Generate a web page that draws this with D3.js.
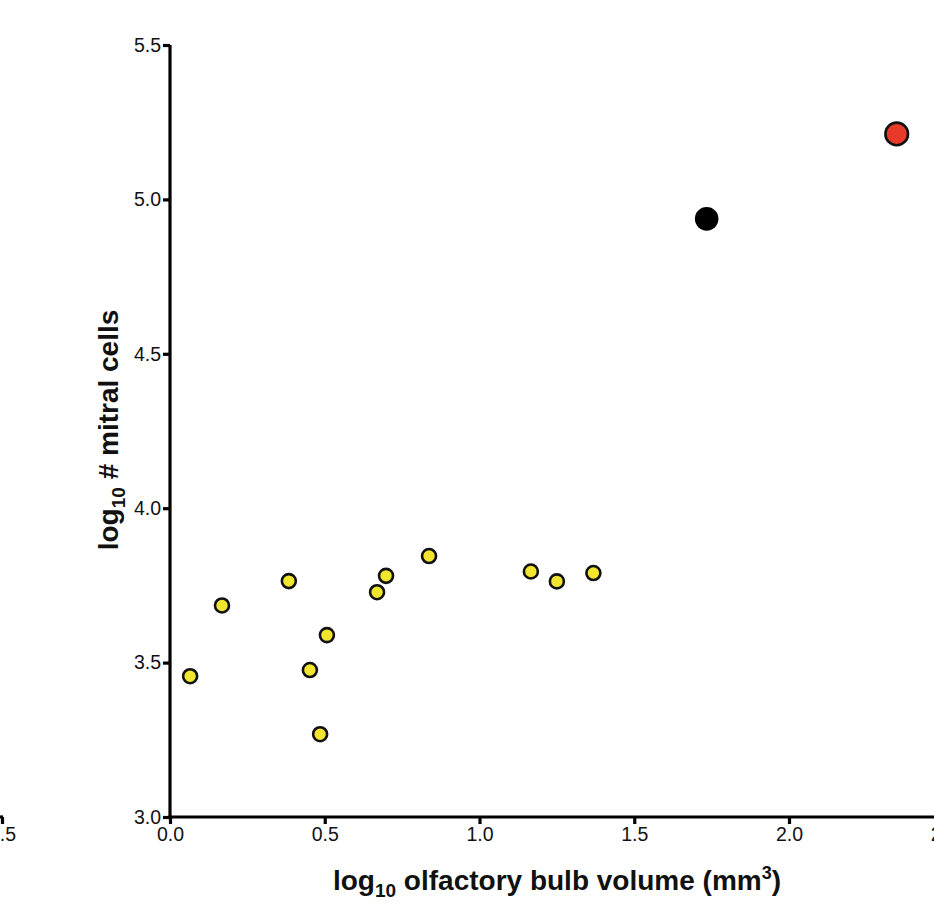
<!DOCTYPE html>
<html>
<head>
<meta charset="utf-8">
<script src="https://cdn.jsdelivr.net/npm/d3@7/dist/d3.min.js"></script>
<style>
  html, body { margin: 0; padding: 0; background: #fff; }
  svg { display: block; }
  text { font-family: "Liberation Sans", Arial, Helvetica, sans-serif; fill: #111; }
</style>
</head>
<body>
<svg id="chart" width="934" height="921"></svg>
<script>
// log10 olfactory bulb volume (mm^3) vs log10 number of mitral cells
const smallX = [0.065, 0.168, 0.384, 0.452, 0.485, 0.507, 0.669, 0.698, 0.837, 1.166, 1.250, 1.368];
const smallY = [3.456, 3.685, 3.764, 3.476, 3.268, 3.589, 3.728, 3.781, 3.845, 3.795, 3.763, 3.790];
const blackPoint = [1.734, 4.937];
const redPoint = [2.348, 5.212];

const xTicks = [0.0, 0.5, 1.0, 1.5, 2.0, 2.5];
const yTicks = [3.0, 3.5, 4.0, 4.5, 5.0, 5.5];

const svg = d3.select("#chart");

const x = d3.scaleLinear().domain([0, 2.5]).range([170, 943.75]);
const y = d3.scaleLinear().domain([3, 5.5]).range([817, 45]);
const fmt = d3.format(".1f");
const tickFont = 19.5;

function styleAxis(g) {
  g.select(".domain").attr("stroke", "#000").attr("stroke-width", 3.2);
  g.selectAll(".tick line").attr("stroke", "#000").attr("stroke-width", 3.2);
  g.selectAll(".tick text")
    .attr("font-family", "\"Liberation Sans\", Arial, Helvetica, sans-serif")
    .attr("font-size", tickFont)
    .attr("fill", "#1a1a1a");
}

// Axes
const xAxis = svg.append("g")
  .attr("transform", `translate(0,${y(3)})`)
  .call(d3.axisBottom(x).tickValues(xTicks).tickFormat(fmt).tickSize(7).tickSizeOuter(0).tickPadding(3));
const yAxis = svg.append("g")
  .attr("transform", `translate(${x(0)},0)`)
  .call(d3.axisLeft(y).tickValues(yTicks).tickFormat(fmt).tickSize(7).tickSizeOuter(0).tickPadding(2));
styleAxis(xAxis);
styleAxis(yAxis);
// extend axis lines slightly past the origin
xAxis.select(".domain").attr("d", `M${x(0) - 1.6},0H${x(2.5) + 20}`);
yAxis.select(".domain").attr("d", `M0,${y(5.5)}V${y(3) + 1.6}`);

// Yellow points
svg.append("g").selectAll("circle")
  .data(d3.zip(smallX, smallY))
  .join("circle")
  .attr("cx", d => x(d[0]))
  .attr("cy", d => y(d[1]))
  .attr("r", 7)
  .attr("fill", "#f1e52f")
  .attr("stroke", "#111")
  .attr("stroke-width", 2.6);

// Black point
svg.append("circle")
  .attr("cx", x(blackPoint[0])).attr("cy", y(blackPoint[1]))
  .attr("r", 11.8)
  .attr("fill", "#000");

// Red point
svg.append("circle")
  .attr("cx", x(redPoint[0])).attr("cy", y(redPoint[1]))
  .attr("r", 11.3)
  .attr("fill", "#e83a28")
  .attr("stroke", "#111")
  .attr("stroke-width", 2.6);

// X axis title
const xt = svg.append("text")
  .attr("x", 557).attr("y", 890)
  .attr("text-anchor", "middle")
  .attr("font-size", 28)
  .attr("font-weight", "bold");
xt.append("tspan").text("log");
xt.append("tspan").attr("font-size", 19).attr("dy", 7).text("10");
xt.append("tspan").attr("dy", -7).text(" olfactory bulb volume (mm");
xt.append("tspan").attr("font-size", 18).attr("dy", -11).text("3");
xt.append("tspan").attr("dy", 11).text(")");

// Y axis title
const yt = svg.append("text")
  .attr("transform", "translate(118,430) rotate(-90)")
  .attr("text-anchor", "middle")
  .attr("font-size", 28)
  .attr("font-weight", "bold");
yt.append("tspan").text("log");
yt.append("tspan").attr("font-size", 19).attr("dy", 7).text("10");
yt.append("tspan").attr("dy", -7).text(" # mitral cells");

// Edge of the neighbouring panel's x axis
const nx = d3.scaleLinear().domain([0, 2.5]).range([-770, 2]);
const nAxis = svg.append("g")
  .attr("transform", `translate(0,${y(3)})`)
  .call(d3.axisBottom(nx).tickValues([2.5]).tickFormat(fmt).tickSize(7).tickSizeOuter(0).tickPadding(3));
styleAxis(nAxis);
nAxis.select(".domain").attr("d", "M-20,0H3");
</script>
</body>
</html>
